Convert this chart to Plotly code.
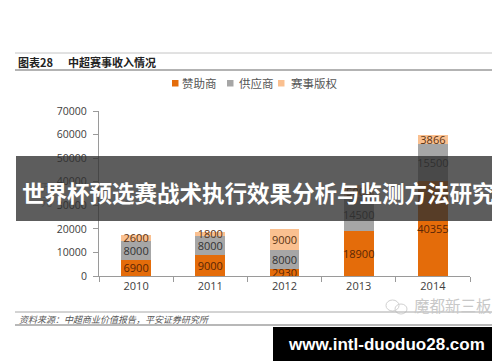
import plotly.graph_objects as go

years = ["2010", "2011", "2012", "2013", "2014"]
sponsor = [6900, 9000, 2930, 18900, 40355]
supplier = [8000, 8000, 8000, 14500, 15500]
rights = [2600, 1800, 9000, 5000, 3866]
series_names = ["赞助商", "供应商", "赛事版权"]
y_ticks = [0, 10000, 20000, 30000, 40000, 50000, 60000, 70000]

colors = ["#E46C0A", "#A6A6A6", "#FAC090"]
label_colors = ["#5a2606", "#333333", "#5a3312"]

W, H = 500, 362
L, R, T, B = 91, 462, 103, 268


def px(x):
    return (x - L) / (R - L)


def py(y):
    return (B - y) / (B - T)


fig = go.Figure()
for name, vals, c, lc in zip(series_names, [sponsor, supplier, rights], colors, label_colors):
    fig.add_trace(go.Bar(
        x=years, y=vals, name=name, marker=dict(color=c, line=dict(width=0)),
        width=0.4, text=[str(v) for v in vals], textposition="inside",
        insidetextanchor="middle", textangle=0, constraintext="none",
        textfont=dict(family="Open Sans", size=11, color=lc),
        showlegend=False, hoverinfo="skip"))

shapes = []
annotations = []

# header lines and title
shapes.append(dict(type="line", xref="paper", yref="paper", x0=px(7), x1=px(493), y0=py(45), y1=py(45),
                   line=dict(color="#c4c4c4", width=1)))
shapes.append(dict(type="line", xref="paper", yref="paper", x0=px(7), x1=px(493), y0=py(62), y1=py(62),
                   line=dict(color="#9a9a9a", width=1.5)))
annotations.append(dict(text="<b>图表28</b>", xref="paper", yref="paper", x=px(8), y=py(54),
                        xanchor="left", yanchor="middle", showarrow=False,
                        font=dict(family="Noto Sans CJK SC", size=11, color="#222222")))
annotations.append(dict(text="<b>中超赛事收入情况</b>", xref="paper", yref="paper", x=px(58), y=py(54),
                        xanchor="left", yanchor="middle", showarrow=False,
                        font=dict(family="Noto Sans CJK SC", size=11, color="#222222")))

# custom legend
leg = [(164, 172), (219, 229), (270, 281)]
for (sx, tx), name, c in zip(leg, series_names, colors):
    shapes.append(dict(type="rect", xref="paper", yref="paper", x0=px(sx), x1=px(sx + 6.5),
                       y0=py(78.5), y1=py(72), fillcolor=c, line=dict(width=0)))
    annotations.append(dict(text=name, xref="paper", yref="paper", x=px(tx), y=py(75.5),
                            xanchor="left", yanchor="middle", showarrow=False,
                            font=dict(family="Noto Sans CJK SC", size=11.5, color="#555555")))

# y axis unit (mostly hidden under banner)
annotations.append(dict(text="万<br>元", xref="paper", yref="paper", x=px(38), y=py(186),
                        xanchor="center", yanchor="middle", showarrow=False,
                        font=dict(family="Noto Sans CJK SC", size=11, color="rgba(40,40,40,0.35)")))

# banner
shapes.append(dict(type="rect", xref="paper", yref="paper", x0=px(8), x1=px(492), y0=py(213), y1=py(148),
                   fillcolor="rgba(48,48,48,0.78)", line=dict(width=0), layer="above"))
annotations.append(dict(text="<b>世界杯预选赛战术执行效果分析与监测方法研究</b>", xref="paper", yref="paper",
                        x=px(250), y=py(184), xanchor="center", yanchor="middle", showarrow=False,
                        font=dict(family="Noto Sans CJK SC", size=22.5, color="#ffffff")))

# watermark
shapes.append(dict(type="circle", xref="paper", yref="paper", x0=px(378), x1=px(391), y0=py(303), y1=py(292),
                   line=dict(color="#d0d0d0", width=1)))
shapes.append(dict(type="circle", xref="paper", yref="paper", x0=px(387), x1=px(399), y0=py(306), y1=py(296),
                   line=dict(color="#d0d0d0", width=1)))
annotations.append(dict(text="魔都新三板", xref="paper", yref="paper", x=px(404), y=py(297),
                        xanchor="left", yanchor="middle", showarrow=False,
                        font=dict(family="Noto Sans CJK SC", size=15.5, color="#c8c8c8")))

# footer lines and source
shapes.append(dict(type="line", xref="paper", yref="paper", x0=px(7), x1=px(490), y0=py(304), y1=py(304),
                   line=dict(color="#a8a8a8", width=1)))
shapes.append(dict(type="line", xref="paper", yref="paper", x0=px(7), x1=px(490), y0=py(317), y1=py(317),
                   line=dict(color="#b8b8b8", width=2)))
annotations.append(dict(text="<i>资料来源：中超商业价值报告，平安证券研究所</i>", xref="paper", yref="paper",
                        x=px(9), y=py(311), xanchor="left", yanchor="middle", showarrow=False,
                        font=dict(family="Noto Sans CJK SC", size=9, color="#555555")))

# url box
shapes.append(dict(type="rect", xref="paper", yref="paper", x0=px(265), x1=px(491), y0=py(353), y1=py(319),
                   fillcolor="#000000", line=dict(width=0), layer="above"))
annotations.append(dict(text="<b>www.intl-duoduo28.com</b>", xref="paper", yref="paper",
                        x=px(378), y=py(336), xanchor="center", yanchor="middle", showarrow=False,
                        font=dict(family="Liberation Sans", size=17, color="#ffffff")))

fig.update_layout(
    width=W, height=H, barmode="stack",
    margin=dict(l=L, r=W - R, t=T, b=H - B, pad=0),
    paper_bgcolor="#ffffff", plot_bgcolor="#ffffff",
    shapes=shapes, annotations=annotations, showlegend=False,
    xaxis=dict(type="category", showline=True, linecolor="#9a9a9a", linewidth=1,
               ticks="outside", tickson="boundaries", ticklen=5, tickcolor="#9a9a9a",
               showgrid=False, zeroline=False, range=[-0.5, 4.5],
               tickfont=dict(family="Open Sans", size=11, color="#404040")),
    yaxis=dict(range=[0, 70000], tickvals=y_ticks, tickformat="d", showline=True,
               linecolor="#9a9a9a", linewidth=1, ticks="outside", ticklen=5, tickcolor="#9a9a9a",
               showgrid=False, zeroline=False, ticklabelstandoff=4,
               tickfont=dict(family="Open Sans", size=10.5, color="#404040")),
)

fig.write_html("out.html")
